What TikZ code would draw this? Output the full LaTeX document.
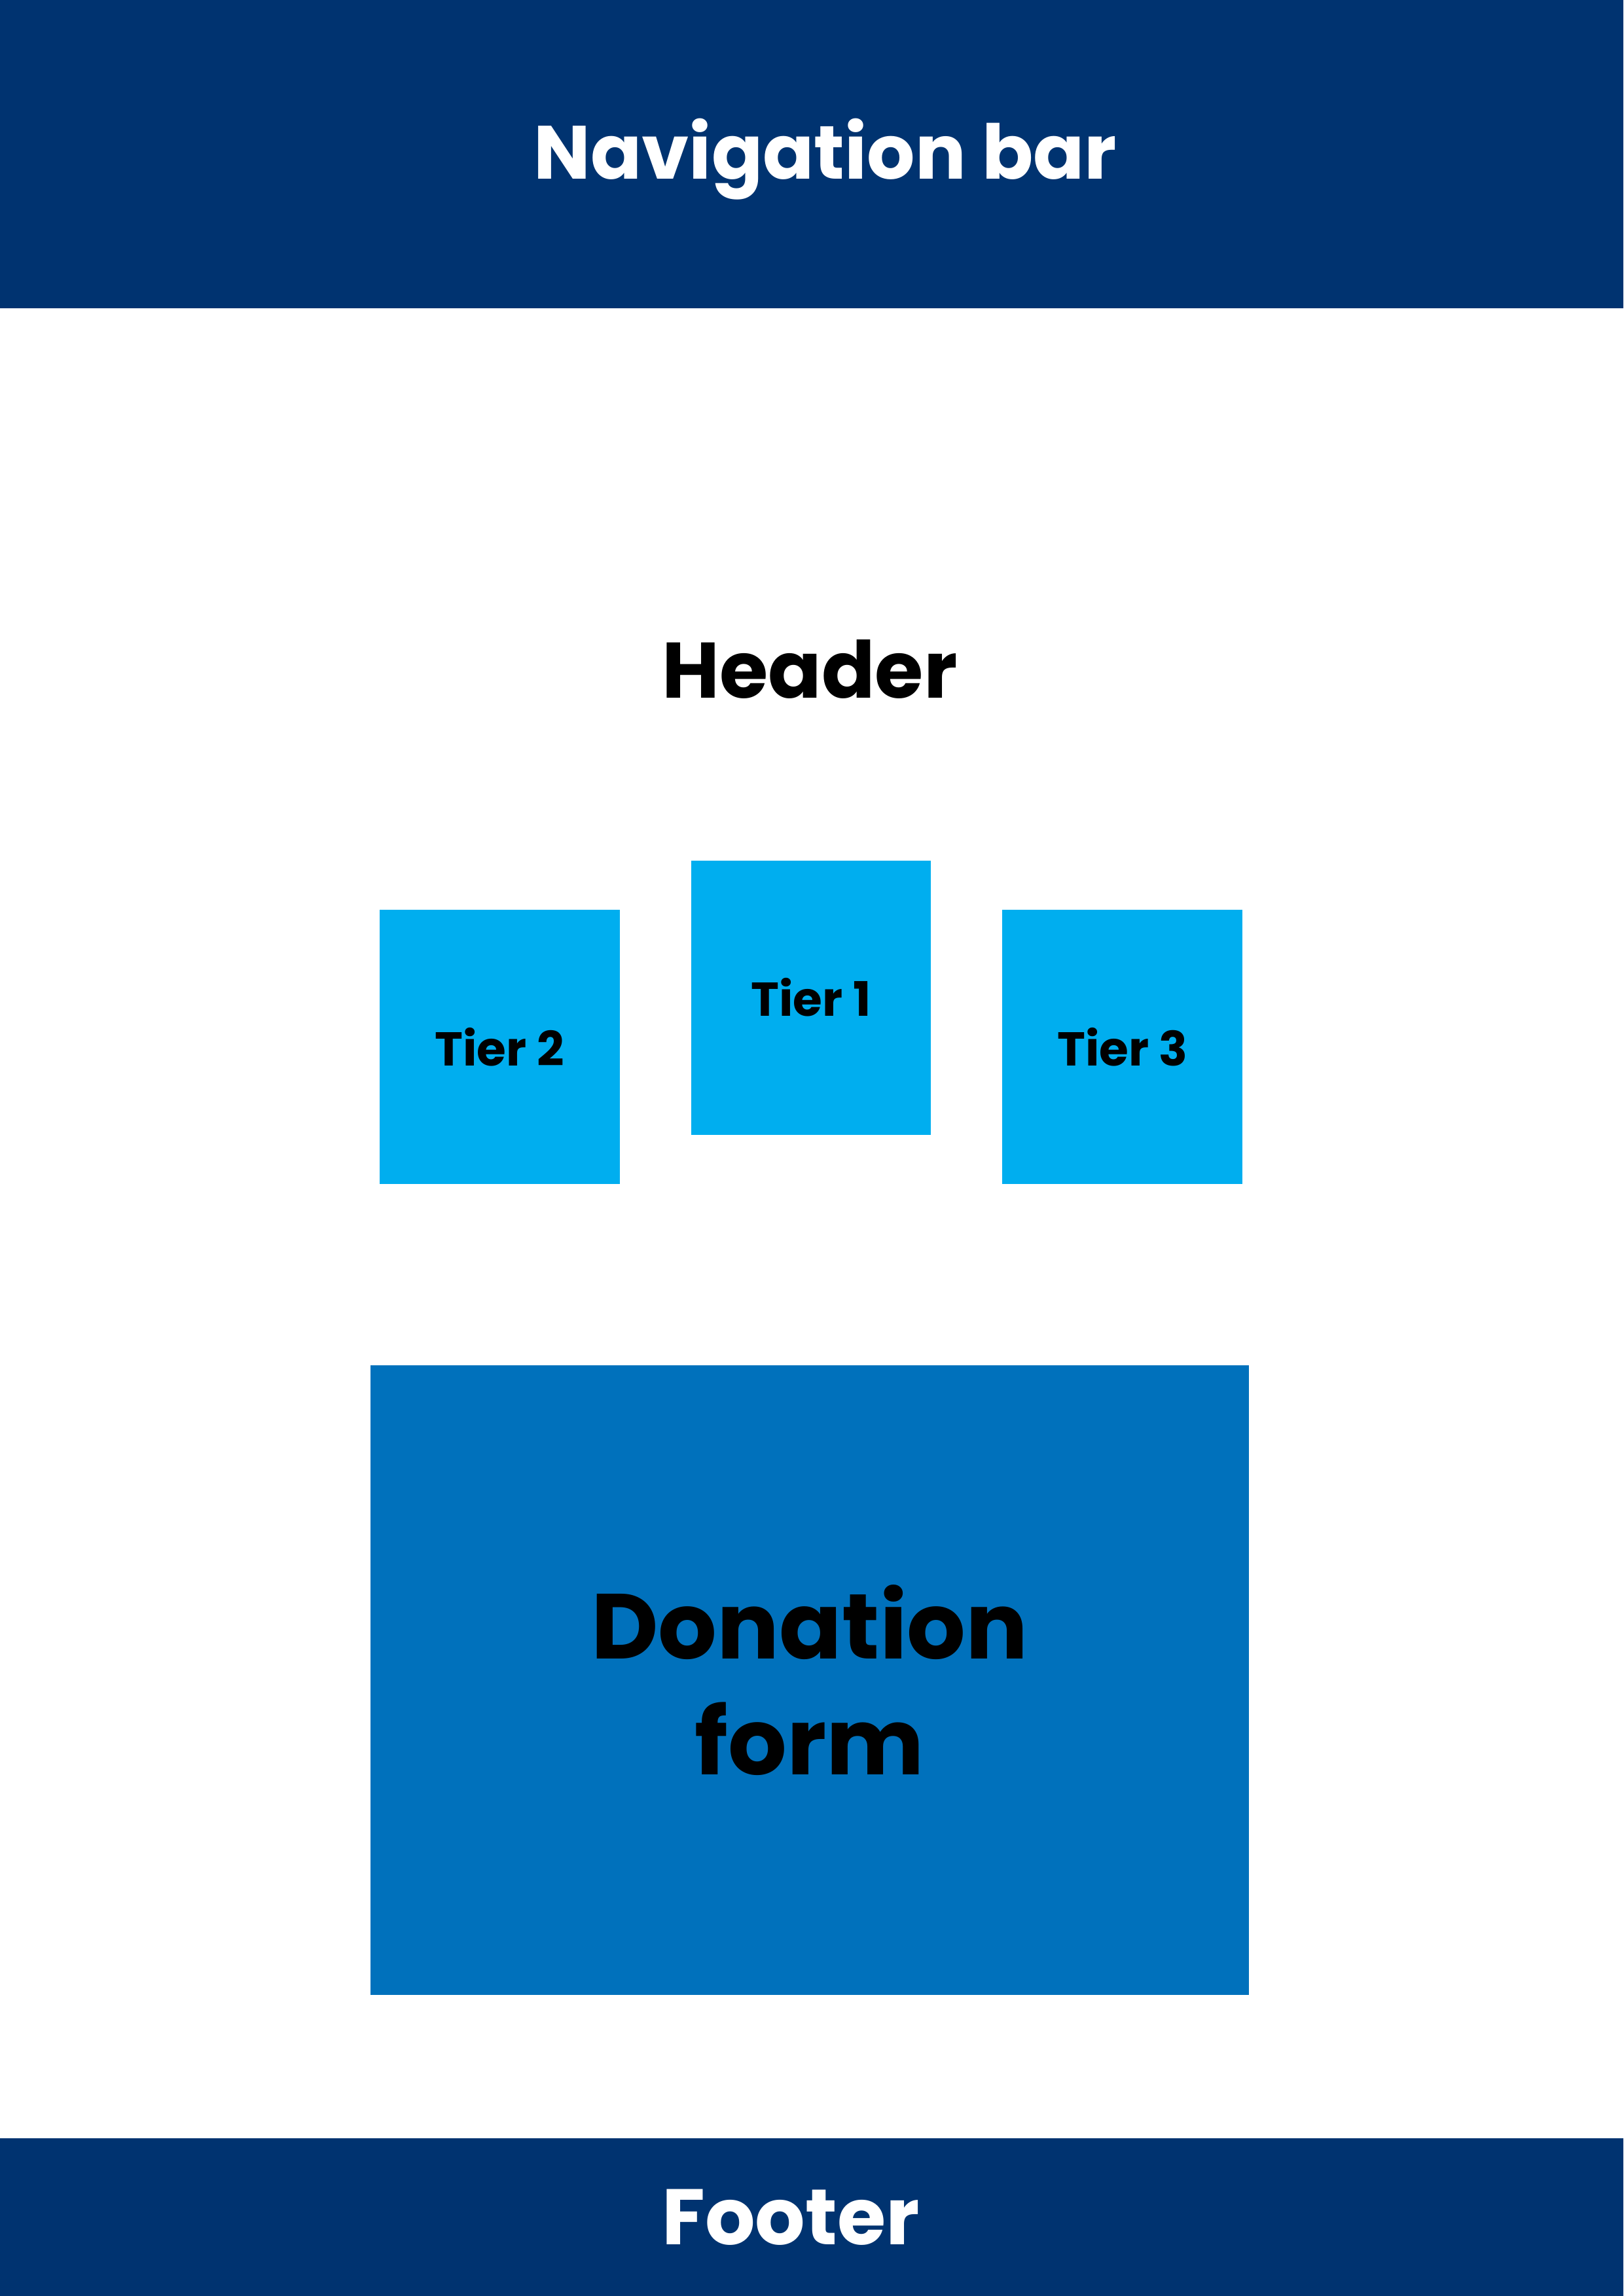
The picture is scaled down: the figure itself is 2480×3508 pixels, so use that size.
\documentclass[tikz,border=0pt]{standalone}
\usepackage{fontspec}
\setmainfont{Poppins}
\usepackage{xcolor}
\usepackage{tikz}
\usetikzlibrary{positioning}
\definecolor{navy}{HTML}{003370}
\definecolor{tierblue}{HTML}{00AEEF}
\definecolor{formblue}{HTML}{0071BC}
\tikzset{
x=0.0084667cm, % one pixel of the A4 page
y=-0.0084667cm, % pixels counted downwards
every node/.style={inner sep=0pt, outer sep=0pt, font=\bfseries},
band/.style={fill=navy, minimum width=21cm}, % top and bottom bars
tier/.style={fill=tierblue, minimum width=3.107cm, minimum height=3.548cm, font=\bfseries\fontsize{17.5}{21}\selectfont},
bigtext/.style={font=\bfseries\fontsize{29}{35}\selectfont},
}

\begin{document}
\begin{tikzpicture}
\useasboundingbox (0,0) rectangle (2480,3508);
% bars
\node[band, minimum height=3.988cm] (nav) at (1240,235.5) {};
\node[bigtext, text=white, font=\bfseries\fontsize{27.8}{34}\selectfont] (navtext) at (1261,243) {Navigation bar};
\node[band, minimum height=2.04cm] (footer) at (1240,3387.5) {};
\node[bigtext, text=white] (footertext) at (1208,3387.5) {Footer};
% header and tiers
\node[bigtext] (header) at (1237,1022) {Header};
\node[tier] (tier1) at (1239,1524) {Tier 1};
\node[tier, below left=0.643cm and 0.923cm of tier1.north west, anchor=north east] (tier2) {Tier 2};
\node[tier, below right=0.643cm and 0.923cm of tier1.north east, anchor=north west] (tier3) {Tier 3};
% form
\node[fill=formblue, minimum width=11.37cm, minimum height=8.145cm, align=center, font=\bfseries\fontsize{34}{42.5}\selectfont] (form) at (1237,2567) {Donation\\form};
\end{tikzpicture}
\end{document}
